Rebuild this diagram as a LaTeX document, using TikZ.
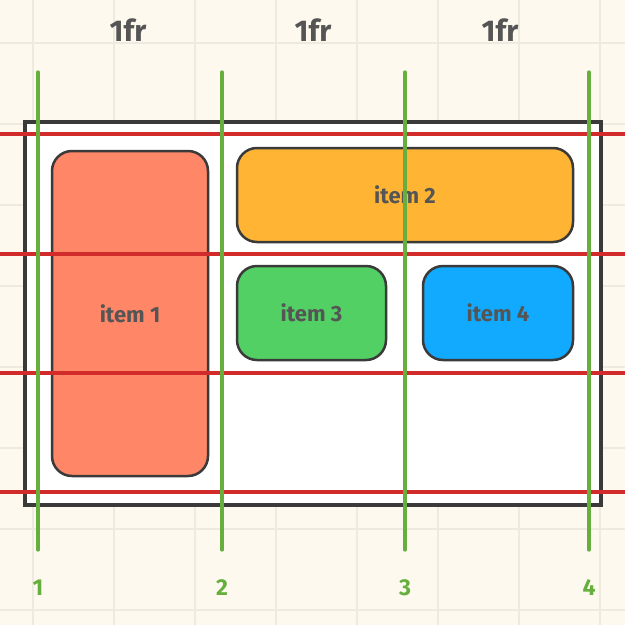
\documentclass[tikz,border=0pt]{standalone}
\usepackage{fontspec}
\setmainfont{Fira Sans}
\usetikzlibrary{positioning}
\definecolor{paper}{HTML}{FDF9EE}
\definecolor{gridline}{HTML}{EFEADF}
\definecolor{frame}{HTML}{3A3A3A}
\definecolor{ink}{HTML}{555555}
\definecolor{rowline}{HTML}{D22B2B}
\definecolor{colline}{HTML}{66AE3E}
\definecolor{coral}{HTML}{FF8666}
\definecolor{amber}{HTML}{FFB533}
\definecolor{leaf}{HTML}{52D063}
\definecolor{sky}{HTML}{11AAFF}
\tikzset{
    item/.style={rectangle,rounded corners=20pt,draw=frame,line width=2.5pt, text=ink, font=\bfseries\fontsize{22}{24}\selectfont, inner sep=0pt},
    frlabel/.style={text=ink, font=\bfseries\fontsize{30}{32}\selectfont},
    linelabel/.style={text=colline, font=\bfseries\fontsize{23}{25}\selectfont},
    track/.style={line width=3.2pt}
}

\begin{document}
\begin{tikzpicture}[x=1pt, y=-1pt]
    \useasboundingbox (0,0) rectangle (625,625);
    \fill[paper] (0,0) rectangle (625,625);
    % background grid
    \foreach \g in {33,114,195,276,357,438,519,600} {
      \draw[gridline, line width=2.5pt] (\g,0) -- (\g,625);
    }
    \foreach \g in {43,124,205,286,367,448,529,610} {
      \draw[gridline, line width=2.5pt] (0,\g) -- (625,\g);
    }
    % container
    \draw[frame, fill=white, line width=4pt] (25,122) rectangle (601,505);

    \node[item, fill=coral, minimum width=156pt, minimum height=325pt] (item1) at (130,313.5) {item 1};
    \node[item, fill=amber, minimum width=336pt, minimum height=94pt] (item2) at (405,195) {item 2};
    \node[item, fill=leaf, minimum width=149pt, minimum height=94pt] (item3) at (311.5,313) {item 3};
    \node[item, fill=sky, minimum width=150pt, minimum height=94pt] (item4) at (498,313) {item 4};

    % row tracks
    \foreach \r in {134,254,373,492} {
      \draw[track, rowline] (0,\r) -- (625,\r);
    }
    % column tracks
    \foreach \c/\n in {38/1,222/2,405/3,589/4} {
      \draw[track, colline, line cap=round] (\c,72) -- (\c,550);
      \node[linelabel] (num\n) at (\c,588) {\n};
    }
    \node[frlabel] (fr1) at (128,30) {1fr};
    \node[frlabel] (fr2) at (313,30) {1fr};
    \node[frlabel] (fr3) at (500,30) {1fr};
\end{tikzpicture}
\end{document}
